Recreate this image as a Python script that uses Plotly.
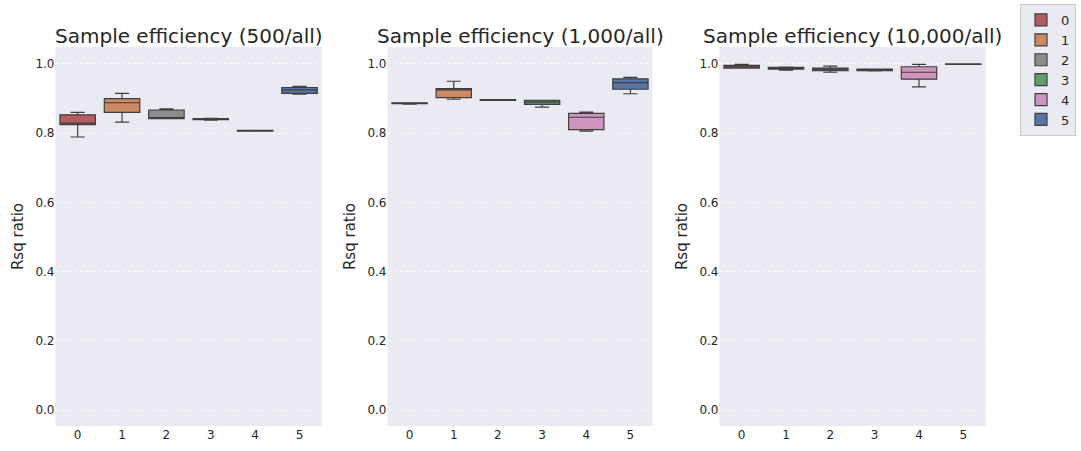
import plotly.graph_objects as go

categories = ["0", "1", "2", "3", "4", "5"]
titles = ["Sample efficiency (500/all)", "Sample efficiency (1,000/all)", "Sample efficiency (10,000/all)"]
colors = ["#B55D60", "#CC8963", "#8C8C8C", "#5F9E6E", "#D095BF", "#5875A4"]

# Panel 500/all
p1_low = [0.789, 0.832, 0.842, 0.838, 0.806, 0.913]
p1_q1 = [0.825, 0.860, 0.842, 0.839, 0.806, 0.915]
p1_med = [0.829, 0.888, 0.843, 0.840, 0.807, 0.925]
p1_q3 = [0.853, 0.900, 0.867, 0.842, 0.808, 0.932]
p1_high = [0.860, 0.915, 0.870, 0.843, 0.808, 0.935]

# Panel 1,000/all
p2_low = [0.884, 0.898, 0.895, 0.875, 0.806, 0.914]
p2_q1 = [0.885, 0.903, 0.895, 0.883, 0.810, 0.927]
p2_med = [0.886, 0.925, 0.896, 0.890, 0.846, 0.946]
p2_q3 = [0.888, 0.929, 0.897, 0.895, 0.857, 0.957]
p2_high = [0.888, 0.950, 0.897, 0.895, 0.861, 0.961]

# Panel 10,000/all
p3_low = [0.988, 0.982, 0.976, 0.980, 0.934, 0.999]
p3_q1 = [0.988, 0.985, 0.981, 0.981, 0.956, 0.999]
p3_med = [0.992, 0.988, 0.985, 0.983, 0.976, 0.999]
p3_q3 = [0.996, 0.990, 0.988, 0.985, 0.992, 1.000]
p3_high = [0.999, 0.991, 0.994, 0.985, 0.999, 1.000]

yticks = [0.0, 0.2, 0.4, 0.6, 0.8, 1.0]

panels = [
    (p1_low, p1_q1, p1_med, p1_q3, p1_high),
    (p2_low, p2_q1, p2_med, p2_q3, p2_high),
    (p3_low, p3_q1, p3_med, p3_q3, p3_high),
]

W, H = 1081, 451
xdoms = [(55.5, 321.7), (387.5, 652.5), (719.5, 985.5)]
ytop, ybot = 47, 426

fig = go.Figure()
for pi, (lo, q1, med, q3, hi) in enumerate(panels):
    ax = "" if pi == 0 else str(pi + 1)
    for ci, cat in enumerate(categories):
        fig.add_trace(go.Box(
            x=[ci], q1=[q1[ci]], median=[med[ci]], q3=[q3[ci]],
            lowerfence=[lo[ci]], upperfence=[hi[ci]],
            name=cat, legendgroup=cat, showlegend=(pi == 0),
            fillcolor=colors[ci], line=dict(color="#3f3f3f", width=1.2),
            width=0.8, whiskerwidth=0.4, boxpoints=False,
            xaxis="x" + ax, yaxis="y" + ax, hoverinfo="skip",
        ))

layout = dict(
    width=W, height=H, margin=dict(l=0, r=0, t=0, b=0),
    paper_bgcolor="white", plot_bgcolor="#EAEAF2",
    font=dict(family="DejaVu Sans", color="#262626"),
    showlegend=True,
    legend=dict(x=1020 / W, y=1 - 4 / H, xanchor="left", yanchor="top",
                bgcolor="#EAEAF2", bordercolor="#CCCCCC", borderwidth=1,
                font=dict(size=13, color="#262626"), tracegroupgap=0),
    annotations=[],
)
for pi in range(3):
    ax = "" if pi == 0 else str(pi + 1)
    d = xdoms[pi]
    layout["xaxis" + ax] = dict(
        domain=[d[0] / W, d[1] / W], range=[-0.5, 5.5],
        tickvals=list(range(6)), ticktext=categories, showgrid=False,
        zeroline=False, tickfont=dict(size=12, color="#262626"),
        anchor="y" + ax, ticks="", ticklen=0,
    )
    layout["yaxis" + ax] = dict(
        domain=[1 - ybot / H, 1 - ytop / H], range=[-0.046, 1.049],
        tickvals=yticks, ticktext=[f"{v:.1f}" for v in yticks],
        gridcolor="rgba(255,255,255,0.75)", gridwidth=1, griddash="dot",
        zeroline=False, tickfont=dict(size=12, color="#262626"),
        anchor="x" + ax,
        title=dict(text="Rsq ratio", font=dict(size=15, color="#262626"), standoff=8),
    )
    layout["annotations"].append(dict(
        text=titles[pi], x=(d[0] + d[1]) / 2 / W, y=1 - 36 / H,
        xref="paper", yref="paper", showarrow=False,
        xanchor="center", yanchor="middle",
        font=dict(size=20, color="#262626"),
    ))

fig.update_layout(**layout)
fig.write_html("out.html", config={"displayModeBar": False},
               post_script="document.body.style.margin='0px';document.body.style.overflow='hidden';")
